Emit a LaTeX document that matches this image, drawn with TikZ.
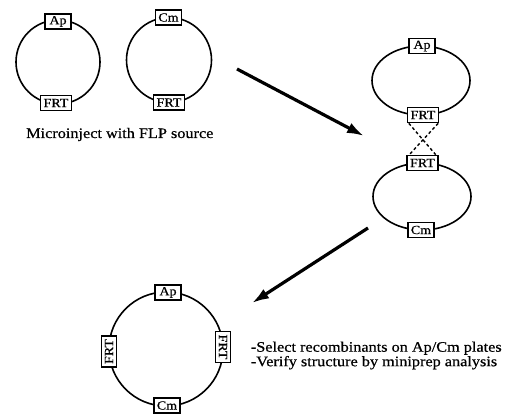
\documentclass[tikz,border=0pt]{standalone}
\usepackage{fontspec}
\setmainfont{Liberation Serif}[FakeStretch=1.12, FakeBold=0.6]
\usetikzlibrary{arrows.meta}
\tikzset{
  x=1pt, y=-1pt,
  ring/.style={line width=1.6pt},
  marker/.style={draw, line width=1.6pt, fill=white, inner xsep=3pt, inner ysep=0pt,
    minimum width=26pt, minimum height=15pt, font=\fontsize{12.5}{14}\selectfont},
  bigarrow/.style={line width=3.2pt, -{Latex[length=17pt,width=11pt]}},
  cross/.style={dashed, dash pattern=on 3pt off 2.5pt, line width=1.4pt},
  label/.style={anchor=base west, inner sep=0pt, font=\fontsize{14.5}{16}\selectfont}
}
\begin{document}
\begin{tikzpicture}
\useasboundingbox (0,0) rectangle (508,414);
% top left plasmids
\draw[ring] (58,62) circle[radius=42];
\node[marker] (ap1) at (58,21.5) {Ap};
\node[marker] (frt1) at (56,103) {FRT};
\draw[ring] (169,60) circle[radius=42.5];
\node[marker] (cm1) at (168.5,17.5) {Cm};
\node[marker] (frt2) at (169,102.5) {FRT};
\node[label] (t1) at (26,138) {Microinject with FLP source};
% arrow 1
\coordinate (a1s) at (237,69);
\coordinate (a1e) at (364,136);
\draw[bigarrow] (a1s) -- (a1e);
% right pair
\draw[ring] (421,80.5) ellipse[x radius=49, y radius=34.5];
\node[marker] (ap2) at (422,46) {Ap};
\node[marker] (frt3) at (423,115) {FRT};
\draw[ring] (422,196.5) ellipse[x radius=49, y radius=33.5];
\node[marker] (frt4) at (422.5,163) {FRT};
\node[marker] (cm2) at (421,230) {Cm};
\draw[cross] ([xshift=2pt]frt3.south west) -- ([xshift=-3pt]frt4.north east);
\draw[cross] ([xshift=-1pt]frt3.south east) -- ([xshift=3pt]frt4.north west);
% arrow 2
\coordinate (a2s) at (368,228);
\coordinate (a2e) at (252,303);
\draw[bigarrow] (a2s) -- (a2e);
% recombinant
\draw[ring] (166,349) circle[radius=57];
\node[marker] (ap3) at (168,292.5) {Ap};
\node[marker] (cm3) at (167,405.5) {Cm};
\node[marker, rotate=90] (frt5) at (109,351.5) {FRT};
\node[marker, rotate=-90] (frt6) at (223,347) {FRT};
\node[label] (t2) at (250.7,351.7) {-Select recombinants on Ap/Cm plates};
\node[label] (t3) at (250.7,366.2) {-Verify structure by miniprep analysis};
\end{tikzpicture}
\end{document}
